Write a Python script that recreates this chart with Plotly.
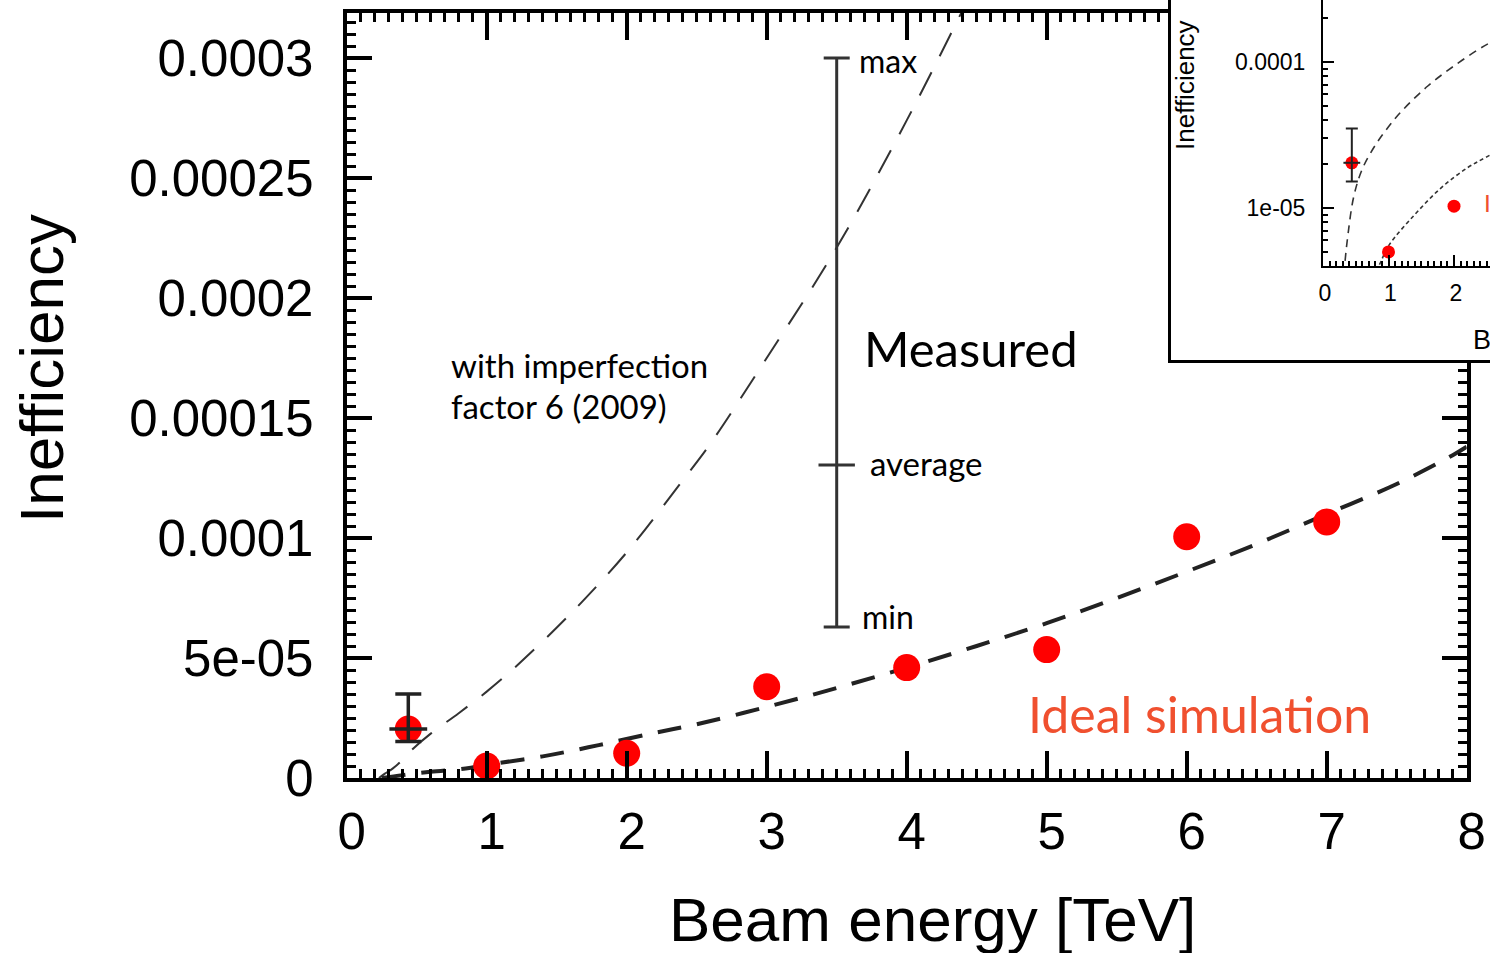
import plotly.graph_objects as go

W, H = 1490, 953

# ---- data ----
# simulated inefficiency points (red dots)
energy = [0.44, 1, 2, 3, 4, 5, 6, 7]
ineff = [2.04e-5, 5.0e-6, 1.03e-5, 3.8e-5, 4.6e-5, 5.35e-5, 1.005e-4, 1.067e-4]

# measured 2010 point with error bar
meas_x = [0.44]
meas_y = [2.04e-5]
meas_up = [1.46e-5]
meas_dn = [5.2e-6]

# ideal-simulation fit curve (thick dashed)
fit_x = [0.25, 0.4, 0.6, 0.85, 1.0, 1.4, 1.8, 2.2, 2.5, 3.0, 3.5, 4.0, 4.5,
         5.0, 5.5, 6.0, 6.5, 7.0, 7.5, 7.9, 8.0]
fit_y = [0.0, 1.2e-6, 2.6e-6, 4.0e-6, 5.5e-6, 9.0e-6, 1.37e-5, 1.88e-5, 2.24e-5,
         2.96e-5, 3.75e-5, 4.6e-5, 5.5e-5, 6.45e-5, 7.5e-5, 8.6e-5, 9.75e-5,
         1.1e-4, 1.225e-4, 1.345e-4, 1.38e-4]

# curve "with imperfection factor 6 (2009)" (thin dashed)
imp_x = [0.23, 0.27, 0.33, 0.38, 0.47, 0.6, 0.8, 1.0, 1.2, 1.6, 2.0, 2.4,
         2.6, 3.0, 3.5, 4.0, 4.4]
imp_y = [0.0, 1.7e-6, 4.0e-6, 6.5e-6, 1.2e-5, 1.85e-5, 2.7e-5, 3.6e-5, 4.6e-5,
         6.85e-5, 9.4e-5, 1.24e-4, 1.395e-4, 1.75e-4, 2.21e-4, 2.74e-4, 3.2e-4]

# schematic "Measured" range bar
range_x = [3.5]
range_avg = [1.304e-4]
range_max = [3.0e-4]
range_min = [6.29e-5]

# ticks
x_tickvals = [0, 1, 2, 3, 4, 5, 6, 7, 8]
y_tickvals = [0, 5e-5, 1e-4, 1.5e-4, 2e-4, 2.5e-4, 3e-4]
y_ticktext = ["0", "5e-05", "0.0001", "0.00015", "0.0002", "0.00025", "0.0003"]
inset_ytickvals = [1e-5, 1e-4]
inset_yticktext = ["1e-05", "0.0001"]
inset_yminor = [2e-6, 3e-6, 4e-6, 5e-6, 6e-6, 7e-6, 8e-6, 9e-6,
                2e-5, 3e-5, 4e-5, 5e-5, 6e-5, 7e-5, 8e-5, 9e-5,
                2e-4, 3e-4, 4e-4]

RED = "#ff0000"
ORANGE = "#f0502f"
DARK = "#222222"
SANS = "Liberation Sans, Arial, sans-serif"
HUM = "Lato, Open Sans, sans-serif"


def px(x):
    return x / W


def py(y):
    return 1 - y / H


fig = go.Figure()

# ---------- main plot ----------
fig.add_trace(go.Scatter(x=imp_x, y=imp_y, mode="lines", line_shape="spline",
                         line=dict(color="#333333", width=2, dash="26px,18px"),
                         hoverinfo="skip", showlegend=False))
fig.add_trace(go.Scatter(x=fit_x, y=fit_y, mode="lines", line_shape="spline",
                         line=dict(color=DARK, width=4, dash="24px,16px"),
                         hoverinfo="skip", showlegend=False))
fig.add_trace(go.Scatter(x=energy, y=ineff, mode="markers",
                         marker=dict(color=RED, size=27, line=dict(width=0)),
                         showlegend=False))
fig.add_trace(go.Scatter(x=meas_x, y=meas_y, mode="markers",
                         marker=dict(symbol="line-ew", size=27, color=DARK,
                                     line=dict(color=DARK, width=3.5)),
                         error_y=dict(type="data", array=meas_up, arrayminus=meas_dn,
                                      color=DARK, thickness=3.5, width=13),
                         showlegend=False))
fig.add_trace(go.Scatter(x=range_x, y=range_avg, mode="markers",
                         marker=dict(symbol="line-ew", size=26, color="#333333",
                                     line=dict(color="#333333", width=3)),
                         error_y=dict(type="data",
                                      array=[range_max[0] - range_avg[0]],
                                      arrayminus=[range_avg[0] - range_min[0]],
                                      color="#333333", thickness=3, width=13),
                         showlegend=False))

# ---------- inset frame (empty subplot used as white box) ----------
fig.add_trace(go.Scatter(x=[], y=[], xaxis="x2", yaxis="y2", showlegend=False))

# ---------- inset plot (log scale) ----------
fig.add_trace(go.Scatter(x=imp_x, y=imp_y, mode="lines", xaxis="x3", yaxis="y3",
                         line_shape="spline",
                         line=dict(color="#333333", width=1.6, dash="8px,6px"),
                         hoverinfo="skip", showlegend=False))
fig.add_trace(go.Scatter(x=fit_x, y=fit_y, mode="lines", xaxis="x3", yaxis="y3",
                         line_shape="spline",
                         line=dict(color="#333333", width=1.6, dash="4px,3px"),
                         hoverinfo="skip", showlegend=False))
fig.add_trace(go.Scatter(x=energy, y=ineff, mode="markers", xaxis="x3", yaxis="y3",
                         marker=dict(color=RED, size=13, line=dict(width=0)),
                         showlegend=False))
fig.add_trace(go.Scatter(x=meas_x, y=meas_y, mode="markers", xaxis="x3", yaxis="y3",
                         marker=dict(symbol="line-ew", size=12, color=DARK,
                                     line=dict(color=DARK, width=2)),
                         error_y=dict(type="data", array=meas_up, arrayminus=meas_dn,
                                      color=DARK, thickness=2, width=6),
                         showlegend=False))

main_x_dom = [px(346.7), px(1466.7)]
main_y_dom = [py(778), py(13)]

axis_common = dict(showgrid=False, zeroline=False, showline=True, automargin=False,
                   linecolor="black", tickcolor="black")

fig.update_layout(
    template="none",
    width=W, height=H, autosize=False,
    margin=dict(l=0, r=0, t=0, b=0, pad=0),
    paper_bgcolor="white", plot_bgcolor="white",
    showlegend=False,
    xaxis=dict(domain=main_x_dom, range=[0, 8], anchor="y",
               tickmode="array", tickvals=x_tickvals,
               ticks="inside", ticklen=27, tickwidth=3.5, linewidth=4,
               mirror="allticks",
               tickfont=dict(family=SANS, size=51, color="black"),
               ticklabelstandoff=6, ticklabelshift=5,
               minor=dict(dtick=0.1, tick0=0, ticks="inside", ticklen=9,
                          tickwidth=3, tickcolor="black"),
               **axis_common),
    yaxis=dict(domain=main_y_dom, range=[0, (778 - 13) / 2.4e6], anchor="x",
               tickmode="array", tickvals=y_tickvals, ticktext=y_ticktext,
               ticks="inside", ticklen=25, tickwidth=3.5, linewidth=4,
               mirror="allticks",
               tickfont=dict(family=SANS, size=51, color="black"),
               ticklabelstandoff=19,
               minor=dict(dtick=5e-6, tick0=0, ticks="inside", ticklen=9,
                          tickwidth=3, tickcolor="black"),
               **axis_common),
    xaxis2=dict(domain=[px(1171), 1], range=[0, 1], anchor="y2",
                showticklabels=False, ticks="", linewidth=2.5,
                **axis_common),
    yaxis2=dict(domain=[py(360), 1], range=[0, 1], anchor="x2",
                showticklabels=False, ticks="", linewidth=2.5,
                **axis_common),
    xaxis3=dict(domain=[px(1323), 1], range=[0, 167 / 65.5], anchor="y3",
                tickmode="array", tickvals=x_tickvals,
                ticks="inside", ticklen=11, tickwidth=2, linewidth=2,
                tickfont=dict(family=SANS, size=23, color="black"),
                ticklabelstandoff=5, ticklabelshift=2,
                minor=dict(dtick=0.1, tick0=0, ticks="inside", ticklen=5,
                           tickwidth=1.5, tickcolor="black"),
                **axis_common),
    yaxis3=dict(domain=[py(266), 1], type="log",
                range=[-5 - (266 - 208) / 146, -5 + 208 / 146], anchor="x3",
                tickmode="array", tickvals=inset_ytickvals, ticktext=inset_yticktext,
                ticks="inside", ticklen=11, tickwidth=2, linewidth=2,
                tickfont=dict(family=SANS, size=23, color="black"),
                ticklabelstandoff=11,
                minor=dict(tickmode="array", tickvals=inset_yminor, ticks="inside",
                           ticklen=5, tickwidth=1.5, tickcolor="black"),
                **axis_common),
)

annotations = [
    # axis titles (main)
    dict(text="Inefficiency", x=px(42), y=py(369), textangle=-90,
         font=dict(family=SANS, size=62, color="black")),
    dict(text="Beam energy [TeV]", x=px(932), y=py(919),
         font=dict(family=SANS, size=62, color="black")),
    # labels
    dict(text="with imperfection", x=px(449), y=py(365), xanchor="left",
         font=dict(family=HUM, size=33, color="black")),
    dict(text="factor 6 (2009)", x=px(449), y=py(406), xanchor="left",
         font=dict(family=HUM, size=33, color="black")),
    dict(text="Measured", x=px(862), y=py(348), xanchor="left",
         font=dict(family=HUM, size=49, color="black")),
    dict(text="max", x=px(857), y=py(61), xanchor="left",
         font=dict(family=HUM, size=32, color="black")),
    dict(text="average", x=px(868), y=py(463), xanchor="left",
         font=dict(family=HUM, size=33, color="black")),
    dict(text="min", x=px(860), y=py(616), xanchor="left",
         font=dict(family=HUM, size=32, color="black")),
    dict(text="Ideal simulation", x=px(1026), y=py(714), xanchor="left",
         font=dict(family=HUM, size=50, color=ORANGE)),
    # inset texts (cut off by the right edge, as in the reference)
    dict(text="Inefficiency", x=px(1185), y=py(85), textangle=-90,
         font=dict(family=SANS, size=26, color="black")),
    dict(text="Beam energy [TeV]", x=px(1471), y=py(340), xanchor="left",
         font=dict(family=SANS, size=27, color="black")),
    dict(text="Ideal simulation", x=px(1482), y=py(203), xanchor="left",
         font=dict(family=HUM, size=24, color=ORANGE)),
]
for a in annotations:
    a.setdefault("xanchor", "center")
    a.setdefault("yanchor", "middle")
    a.update(xref="paper", yref="paper", showarrow=False)
fig.update_layout(annotations=annotations)

fig.write_html(
    "out.html",
    config={"displayModeBar": False},
    post_script="document.body.style.margin='0';document.body.style.overflow='hidden';",
)
